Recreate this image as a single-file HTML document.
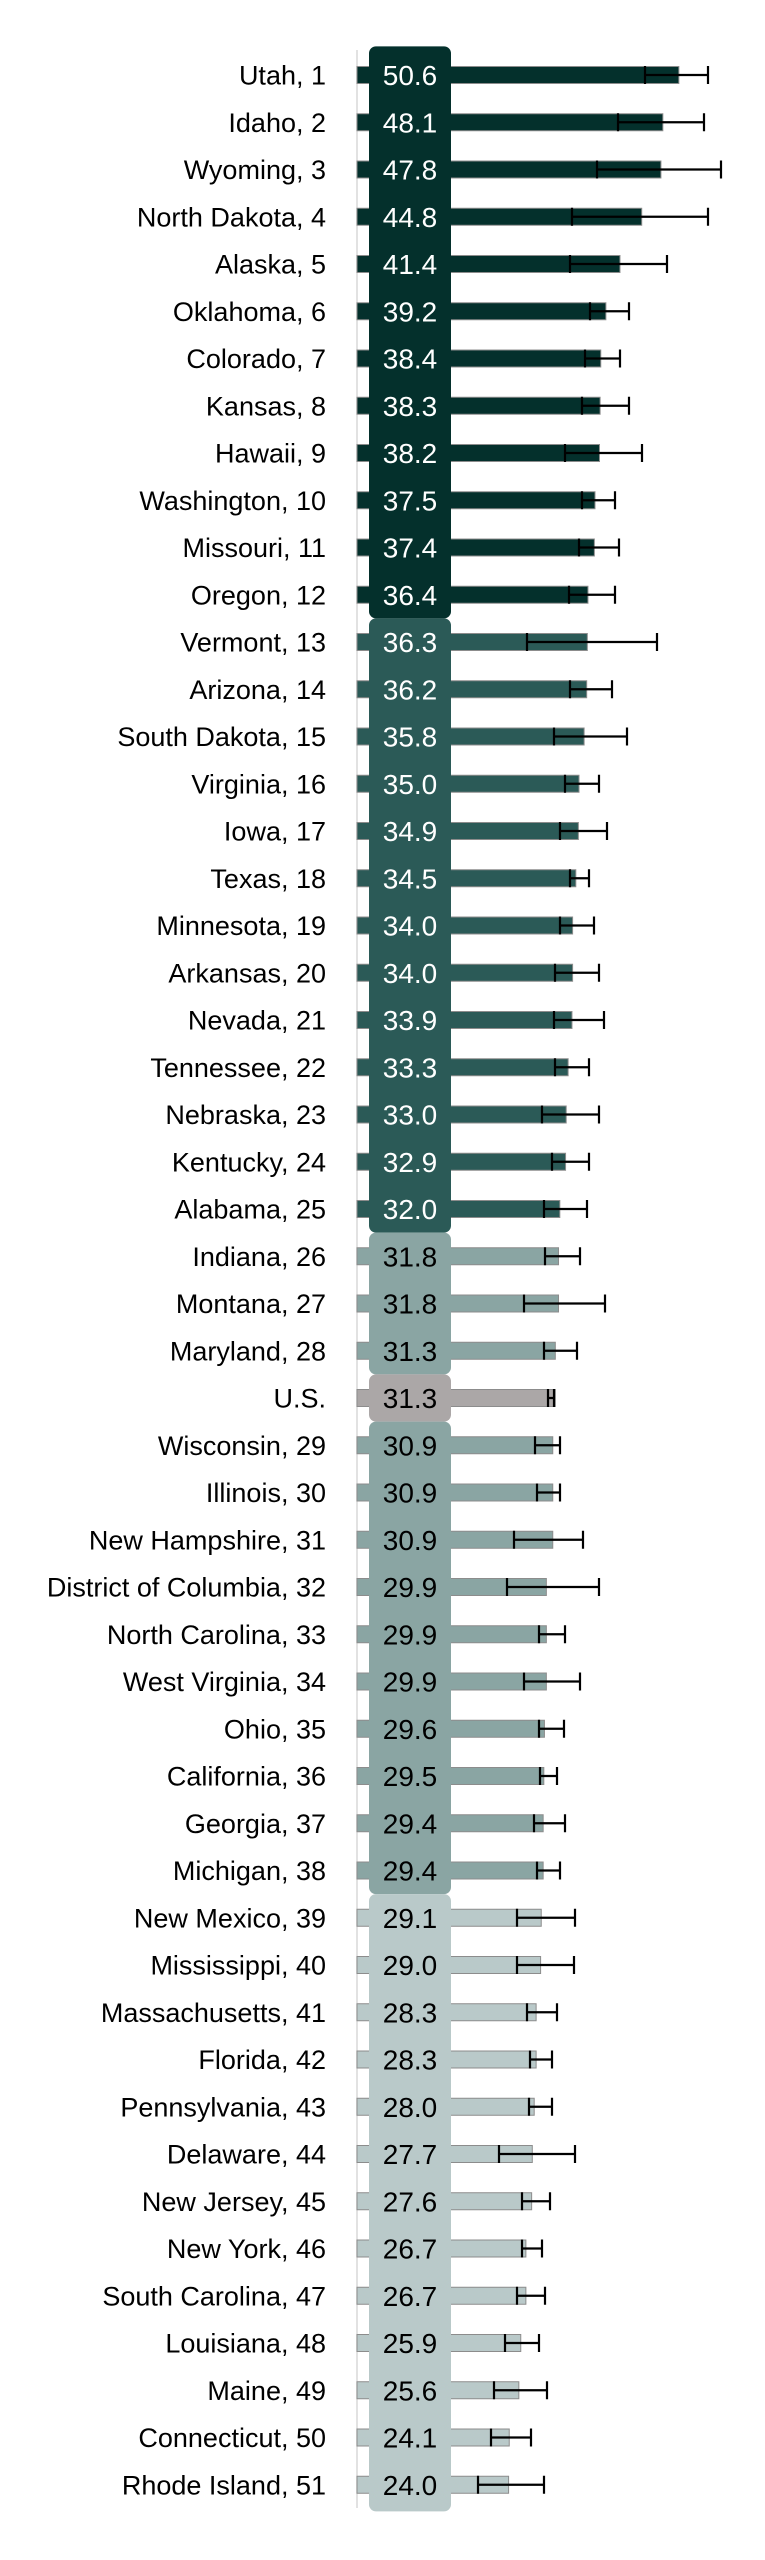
<!DOCTYPE html>
<html><head><meta charset="utf-8"><style>
html,body{margin:0;padding:0;background:#fff;}
svg{display:block;}
text{font-family:"Liberation Sans",sans-serif;}
</style></head><body>
<svg id="s" width="765" height="2560" xmlns="http://www.w3.org/2000/svg"></svg>
<script>
const d=[
["Utah, 1",50.6,645,708],["Idaho, 2",48.1,618,704],["Wyoming, 3",47.8,597,721],["North Dakota, 4",44.8,572,708],["Alaska, 5",41.4,570,667],
["Oklahoma, 6",39.2,590,629],["Colorado, 7",38.4,585,620],["Kansas, 8",38.3,582,629],["Hawaii, 9",38.2,565,642],["Washington, 10",37.5,582,615],
["Missouri, 11",37.4,579,619],["Oregon, 12",36.4,569,615],["Vermont, 13",36.3,527,657],["Arizona, 14",36.2,570,612],["South Dakota, 15",35.8,554,627],
["Virginia, 16",35.0,565,599],["Iowa, 17",34.9,560,607],["Texas, 18",34.5,570,589],["Minnesota, 19",34.0,560,594],["Arkansas, 20",34.0,555,599],
["Nevada, 21",33.9,554,604],["Tennessee, 22",33.3,555,589],["Nebraska, 23",33.0,542,599],["Kentucky, 24",32.9,552,589],["Alabama, 25",32.0,544,587],
["Indiana, 26",31.8,545,580],["Montana, 27",31.8,524,605],["Maryland, 28",31.3,544,577],["U.S.",31.3,548,554],["Wisconsin, 29",30.9,535,560],
["Illinois, 30",30.9,537,560],["New Hampshire, 31",30.9,514,583],["District of Columbia, 32",29.9,507,599],["North Carolina, 33",29.9,539,565],
["West Virginia, 34",29.9,524,580],["Ohio, 35",29.6,539,564],["California, 36",29.5,540,557],["Georgia, 37",29.4,534,565],["Michigan, 38",29.4,537,560],
["New Mexico, 39",29.1,517,575],["Mississippi, 40",29.0,517,574],["Massachusetts, 41",28.3,527,557],["Florida, 42",28.3,530,552],["Pennsylvania, 43",28.0,529,552],
["Delaware, 44",27.7,499,575],["New Jersey, 45",27.6,522,550],["New York, 46",26.7,522,542],["South Carolina, 47",26.7,517,545],["Louisiana, 48",25.9,505,539],
["Maine, 49",25.6,494,547],["Connecticut, 50",24.1,491,531],["Rhode Island, 51",24.0,478,544]];
const col=i=>i<12?"#04302c":i<25?"#2b5a57":i==28?"#aba7a7":i<39?"#8aa5a3":"#b9c9c9";
const sp=47.25,y0=75;
let h='<line x1="357" y1="50" x2="357" y2="2508" stroke="#d9d9d9" stroke-width="1.5"/>';
d.forEach((r,i)=>{const y=y0+i*sp,x=355+r[1]*6.4;
h+=`<rect x="357" y="${y-8.5}" width="${x-357}" height="17" fill="${col(i)}" stroke="#8c8c8c" stroke-width="1"/>`;});
// boxes
const grp=[[0,11,"#04302c"],[12,24,"#2b5a57"],[25,27,"#8aa5a3"],[28,28,"#aba7a7"],[29,38,"#8aa5a3"],[39,51,"#b9c9c9"]];
grp.forEach(g=>{const t=y0+g[0]*sp-sp/2+(g[0]==0?-5:0),b=y0+g[1]*sp+sp/2+(g[1]==51?3:0);
h+=`<rect x="369" y="${t}" width="82" height="${b-t}" rx="7" fill="${g[2]}"/>`;});
d.forEach((r,i)=>{const y=y0+i*sp;
h+=`<text x="326" y="${y+9.5}" font-size="27" text-anchor="end" fill="#000">${r[0]}</text>`;
h+=`<text x="410" y="${y+10}" font-size="28" text-anchor="middle" fill="${i<25?'#fff':'#000'}">${r[1].toFixed(1)}</text>`;
h+=`<path d="M${r[2]} ${y}H${r[3]}M${r[2]} ${y-9}V${y+9}M${r[3]} ${y-9}V${y+9}" stroke="#000" stroke-width="2.2" fill="none"/>`;});
document.getElementById("s").innerHTML=h;
</script>
</body></html>
